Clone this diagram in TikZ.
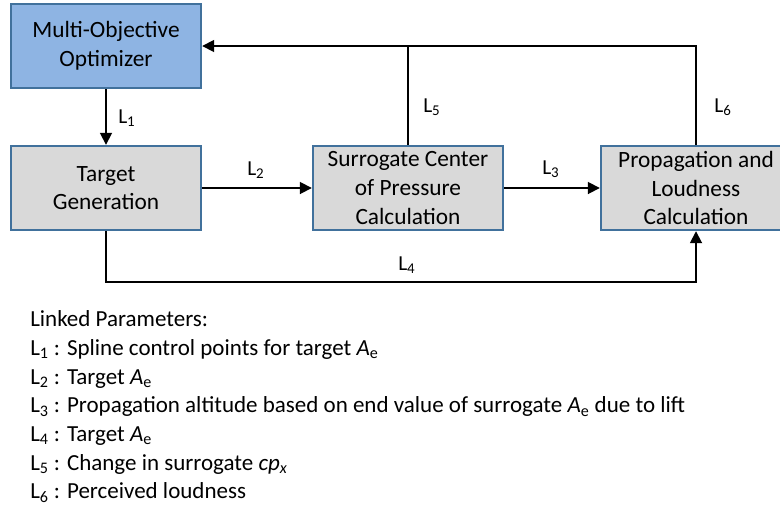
\documentclass[tikz,border=0pt]{standalone}
\usepackage{fontspec}
\setmainfont{Carlito}
\usetikzlibrary{arrows.meta}
\definecolor{boxblue}{HTML}{8EB4E3}
\definecolor{boxgrey}{HTML}{D9D9D9}
\definecolor{edgeblue}{HTML}{41719C}
\tikzset{
  blockbox/.style={draw=edgeblue, line width=1.8pt, minimum width=142.5pt, minimum height=63pt,
    inner sep=0pt, align=center, font=\fontsize{17.5pt}{21.5pt}\selectfont},
  conn/.style={line width=1.3pt, -{Triangle[length=9pt,width=9pt]}},
  plain/.style={line width=1.3pt},
  lab/.style={anchor=base west, inner sep=0pt, font=\fontsize{16pt}{19pt}\selectfont},
  listtxt/.style={anchor=base west, inner sep=0pt, font=\fontsize{17.25pt}{21.5pt}\selectfont}
}
\begin{document}
\begin{tikzpicture}[x=0.75pt,y=-0.75pt]
\useasboundingbox[fill=white] (0,0) rectangle (780,507);
\node[blockbox, fill=boxblue] (moo) at (106,46) {Multi-Objective\\Optimizer};
\node[blockbox, fill=boxgrey] (tg) at (106,188) {Target\\Generation};
\node[blockbox, fill=boxgrey] (sc) at (408,188) {Surrogate Center\\of Pressure\\Calculation};
\node[blockbox, fill=boxgrey] (pl) at (696,188) {Propagation and\\Loudness\\Calculation};
\coordinate (c4) at (400,282);
\draw[conn] (moo) -- (tg);
\draw[conn] (tg) -- (sc);
\draw[conn] (sc) -- (pl);
\draw[conn] (tg.south) |- (c4) -| (pl.south);
\draw[conn] (pl.north) |- (moo.east);
\draw[plain] (sc.north) -- (sc.north |- moo.east);
\node[lab] (l1) at (118,123) {L\textsubscript{1}};
\node[lab] (l2) at (247,175) {L\textsubscript{2}};
\node[lab] (l3) at (542,174) {L\textsubscript{3}};
\node[lab] (l4) at (398,270) {L\textsubscript{4}};
\node[lab] (l5) at (423,112) {L\textsubscript{5}};
\node[lab] (l6) at (714,112) {L\textsubscript{6}};
\node[listtxt] (p0) at (30,326.7) {Linked Parameters:};
\node[listtxt] (p1) at (30,355.4) {L\textsubscript{1} : Spline control points for target \textit{A}\textsubscript{e}};
\node[listtxt] (p2) at (30,384.1) {L\textsubscript{2} : Target \textit{A}\textsubscript{e}};
\node[listtxt] (p3) at (30,412.8) {L\textsubscript{3} : Propagation altitude based on end value of surrogate \textit{A}\textsubscript{e} due to lift};
\node[listtxt] (p4) at (30,441.5) {L\textsubscript{4} : Target \textit{A}\textsubscript{e}};
\node[listtxt] (p5) at (30,470.2) {L\textsubscript{5} : Change in surrogate \textit{cp}\textsubscript{\textit{x}}};
\node[listtxt] (p6) at (30,498.9) {L\textsubscript{6} : Perceived loudness};
\end{tikzpicture}
\end{document}
